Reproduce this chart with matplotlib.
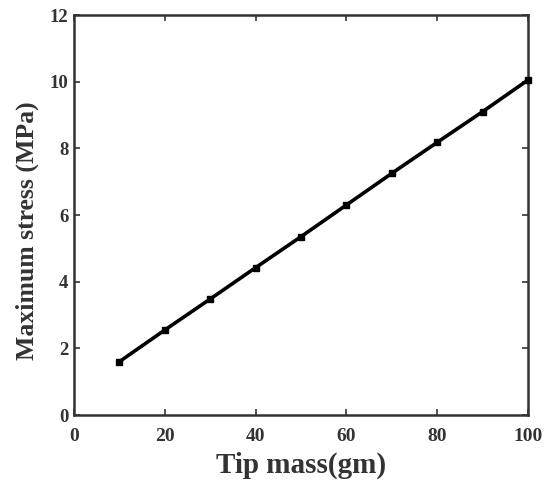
import matplotlib
matplotlib.use("Agg")
import matplotlib.pyplot as plt

tip_mass = [10, 20, 30, 40, 50, 60, 70, 80, 90, 100]
max_stress = [1.6, 2.55, 3.48, 4.42, 5.35, 6.3, 7.25, 8.18, 9.1, 10.05]
x_ticks = [0, 20, 40, 60, 80, 100]
y_ticks = [0, 2, 4, 6, 8, 10, 12]

plt.rcParams['font.family'] = ['Liberation Serif', 'DejaVu Serif']
plt.rcParams['font.weight'] = 'bold'

fig = plt.figure(figsize=(5.47, 4.86), dpi=100)
ax = fig.add_axes([74/547, 1-415/486, (528-74)/547, (415-15)/486])
ax.plot(tip_mass, max_stress, color='black', lw=2.6, marker='s', ms=4.5,
        clip_on=False, zorder=3)
ax.set_xlim(0, 100)
ax.set_ylim(0, 12)
ax.set_xticks(x_ticks)
ax.set_yticks(y_ticks)
ax.tick_params(direction='in', top=True, right=True, length=4, width=1.2,
               colors='#333333')
ax.tick_params(axis='x', labelsize=14, pad=9)
ax.tick_params(axis='y', labelsize=13.5, pad=4)
for lab in ax.get_xticklabels() + ax.get_yticklabels():
    lab.set_fontweight('bold')
for s in ax.spines.values():
    s.set_linewidth(1.8)
    s.set_color('#333333')
ax.set_xlabel('Tip mass(gm)', fontsize=21, fontweight='bold', color='#333333', labelpad=5)
ax.set_ylabel('Maximum stress (MPa)', fontsize=18.5, fontweight='bold', color='#333333')
ax.yaxis.set_label_coords(-0.077, 0.46)
fig.savefig('out.png', dpi=100)
